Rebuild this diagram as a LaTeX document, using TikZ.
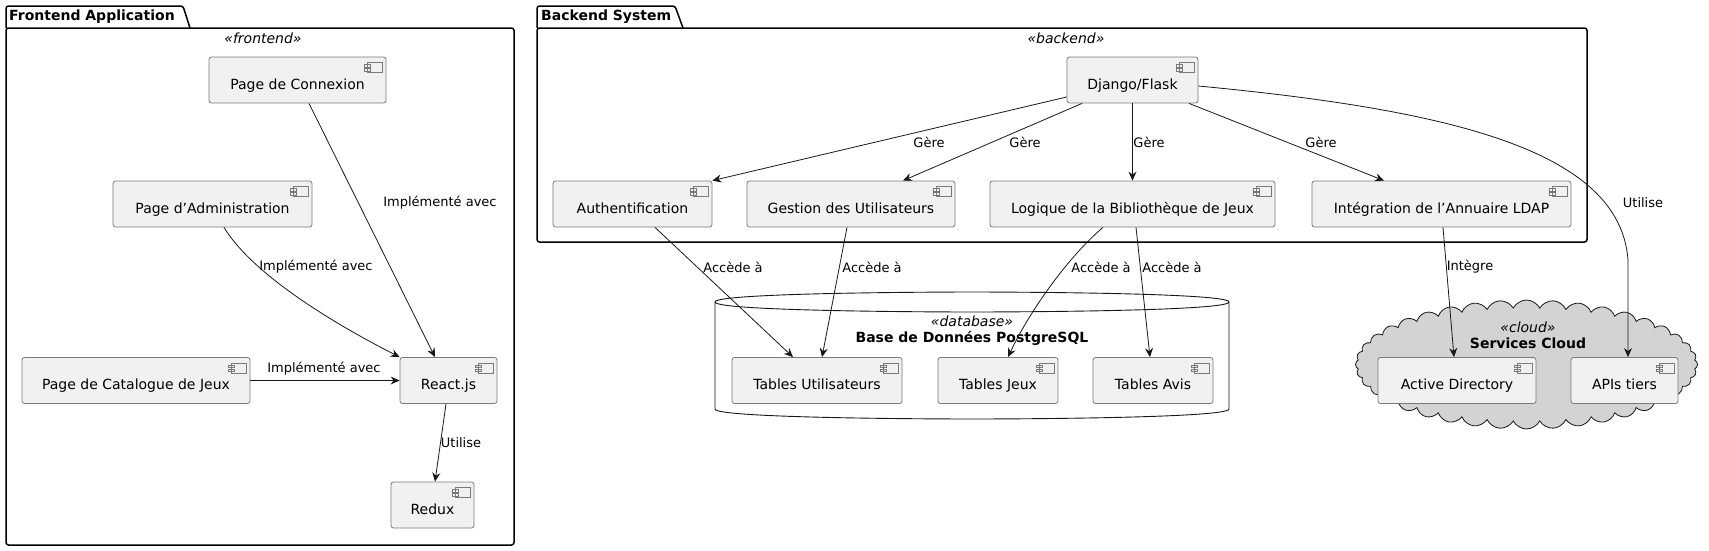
\documentclass[tikz,border=0pt]{standalone}
\usepackage{fontspec}
\setmainfont{DejaVu Sans}
\usepackage{tikz}
\usetikzlibrary{arrows.meta,shapes.symbols}

\definecolor{compfill}{HTML}{F1F1F1}
\definecolor{compline}{HTML}{7A7A7A}
\definecolor{edgeline}{HTML}{181818}
\definecolor{cloudfill}{HTML}{D3D3D3}

\begin{document}
\begin{tikzpicture}[x=1pt, y=-1pt,
    comp/.style={draw=compline, fill=compfill, line width=0.8pt, rounded corners=2.5pt,
      minimum height=46pt, inner sep=0pt, text height=20pt, text depth=2pt,
      font=\fontsize{14}{16}\selectfont},
    compicon/.style={draw=compline, line width=0.6pt, fill=compfill},
    link/.style={draw=edgeline, line width=0.8pt, -{Stealth[length=9pt, width=8pt, inset=3pt]}},
    lbl/.style={font=\fontsize{13}{15}\selectfont, inner sep=0pt},
    stereo/.style={font=\fontsize{14}{16}\selectfont\itshape, inner sep=0pt},
    boldname/.style={font=\fontsize{14}{16}\selectfont\bfseries, inner sep=0pt},
    pkgtitle/.style={boldname, anchor=west},
    pkgline/.style={draw=black, line width=1.5pt, rounded corners=2.5pt},
    dbline/.style={draw=edgeline, line width=0.9pt}]

    \useasboundingbox (0,0) rectangle (1709,550);

    % packages
    \draw [pkgline] (6,28) -- (6,6) -- (183,6) -- (190,28);
    \draw [pkgline] (6,28) rectangle (514,545);
    \node [pkgtitle] (feTitle) at (9,17) {Frontend Application};
    \node [stereo] (feStereo) at (263,38) {«frontend»};

    \draw [pkgline] (537,28) -- (537,6) -- (675,6) -- (683,28);
    \draw [pkgline] (537,28) rectangle (1587,242);
    \node [pkgtitle] (beTitle) at (541,17) {Backend System};
    \node [stereo] (beStereo) at (1066,38) {«backend»};

    % database
    \draw [dbline, fill=white]
      (715,302) .. controls (715,292) and (972,292) .. (972,292)
                .. controls (972,292) and (1229,292) .. (1229,302)
             -- (1229,409) .. controls (1229,419) and (972,419) .. (972,419)
                .. controls (972,419) and (715,419) .. (715,409) -- cycle;
    \draw [dbline]
      (715,302) .. controls (715,312) and (972,312) .. (972,312)
                .. controls (972,312) and (1229,312) .. (1229,302);
    \node [stereo] (dbStereo) at (972,321) {«database»};
    \node [boldname] (dbName) at (972,338) {Base de Données PostgreSQL};

    % cloud
    \node [cloud, cloud puffs=40, cloud puff arc=125, aspect=2.6,
           minimum width=342pt, minimum height=129pt, inner sep=0pt,
           draw=edgeline, line width=0.8pt, fill=cloudfill] (svcCloud) at (1526.5,364.5) {};
    \node [stereo] (cloudStereo) at (1528,327) {«cloud»};
    \node [boldname] (cloudName) at (1528,343) {Services Cloud};

    % components
    \node [comp, minimum width=177pt] (conn) at (297.5,80) {Page de Connexion};
    \node [comp, minimum width=199pt] (admin) at (212.5,204) {Page d’Administration};
    \node [comp, minimum width=228pt] (catalog) at (136,380.5) {Page de Catalogue de Jeux};
    \node [comp, minimum width=97pt] (react) at (448.5,380.5) {React.js};
    \node [comp, minimum width=83pt] (redux) at (432.5,505) {Redux};

    \node [comp, minimum width=131pt] (django) at (1132.5,80) {Django/Flask};
    \node [comp, minimum width=159pt] (auth) at (632.5,204) {Authentification};
    \node [comp, minimum width=208pt] (users) at (851,204) {Gestion des Utilisateurs};
    \node [comp, minimum width=285pt] (library) at (1132.5,204) {Logique de la Bibliothèque de Jeux};
    \node [comp, minimum width=259pt] (ldap) at (1441.5,204) {Intégration de l’Annuaire LDAP};

    \node [comp, minimum width=170pt] (tUsers) at (817,380.5) {Tables Utilisateurs};
    \node [comp, minimum width=120pt] (tGames) at (998,380.5) {Tables Jeux};
    \node [comp, minimum width=120pt] (tReviews) at (1153,380.5) {Tables Avis};

    \node [comp, minimum width=158pt] (ad) at (1457,380.5) {Active Directory};
    \node [comp, minimum width=107pt] (apis) at (1624.5,380.5) {APIs tiers};

    \foreach \n in {conn,admin,catalog,react,redux,django,auth,users,library,ldap,
                    tUsers,tGames,tReviews,ad,apis}
      \draw [compicon, shift={(\n.north east)}]
        (-19,6) rectangle (-4,16)
        (-22,8) rectangle (-16,10.5)
        (-22,12) rectangle (-16,14.5);

    % frontend links
    \draw [link] ([xshift=11.5pt]conn.south) -- ([xshift=-13.5pt]react.north);
    \draw [link] ([xshift=11.5pt]admin.south) .. controls (245,262) and (300,306) .. (react.north west);
    \draw [link] (catalog.east) -- (react.west);
    \draw [link] ([xshift=-2.5pt]react.south) -- ([xshift=2.5pt]redux.north);
    \node [lbl] (implConn) at (440,203) {Implémenté avec};
    \node [lbl] (implAdmin) at (316,267) {Implémenté avec};
    \node [lbl] (implCat) at (324,369) {Implémenté avec};
    \node [lbl] (usesRedux) at (461,443) {Utilise};

    % backend links
    \draw [link] ([yshift=-17pt]django.west) -- (auth.north east);
    \draw [link] ([xshift=-50.5pt]django.south) -- ([xshift=52pt]users.north);
    \draw [link] (django.south) -- (library.north);
    \draw [link] ([xshift=56.5pt]django.south) -- ([xshift=-57.5pt]ldap.north);
    \draw [link] ([yshift=-6pt]django.east) .. controls (1450,110) and (1620,150) .. (1628,260)
                 -- ([xshift=3.5pt]apis.north);
    \node [lbl] (manageAuth) at (929,142) {Gère};
    \node [lbl] (manageUsers) at (1025,142) {Gère};
    \node [lbl] (manageLib) at (1149,142) {Gère};
    \node [lbl] (manageLdap) at (1321,142) {Gère};
    \node [lbl] (usesApis) at (1643,203) {Utilise};

    % data and directory links
    \draw [link] ([xshift=22.5pt]auth.south) -- ([xshift=-24pt]tUsers.north);
    \draw [link] ([xshift=-4pt]users.south) -- ([xshift=5pt]tUsers.north);
    \draw [link] ([xshift=-29.5pt]library.south) .. controls (1070,255) and (1030,310) .. ([xshift=10pt]tGames.north);
    \draw [link] ([xshift=3.5pt]library.south) -- ([xshift=-3pt]tReviews.north);
    \draw [link] ([xshift=1.5pt]ldap.south) -- ([xshift=-3pt]ad.north);
    \node [lbl] (accessAuth) at (733,267) {Accède à};
    \node [lbl] (accessUsers) at (872,267) {Accède à};
    \node [lbl] (accessGames) at (1101,267) {Accède à};
    \node [lbl] (accessReviews) at (1172,267) {Accède à};
    \node [lbl] (integrates) at (1470,267) {Intègre};
\end{tikzpicture}
\end{document}
